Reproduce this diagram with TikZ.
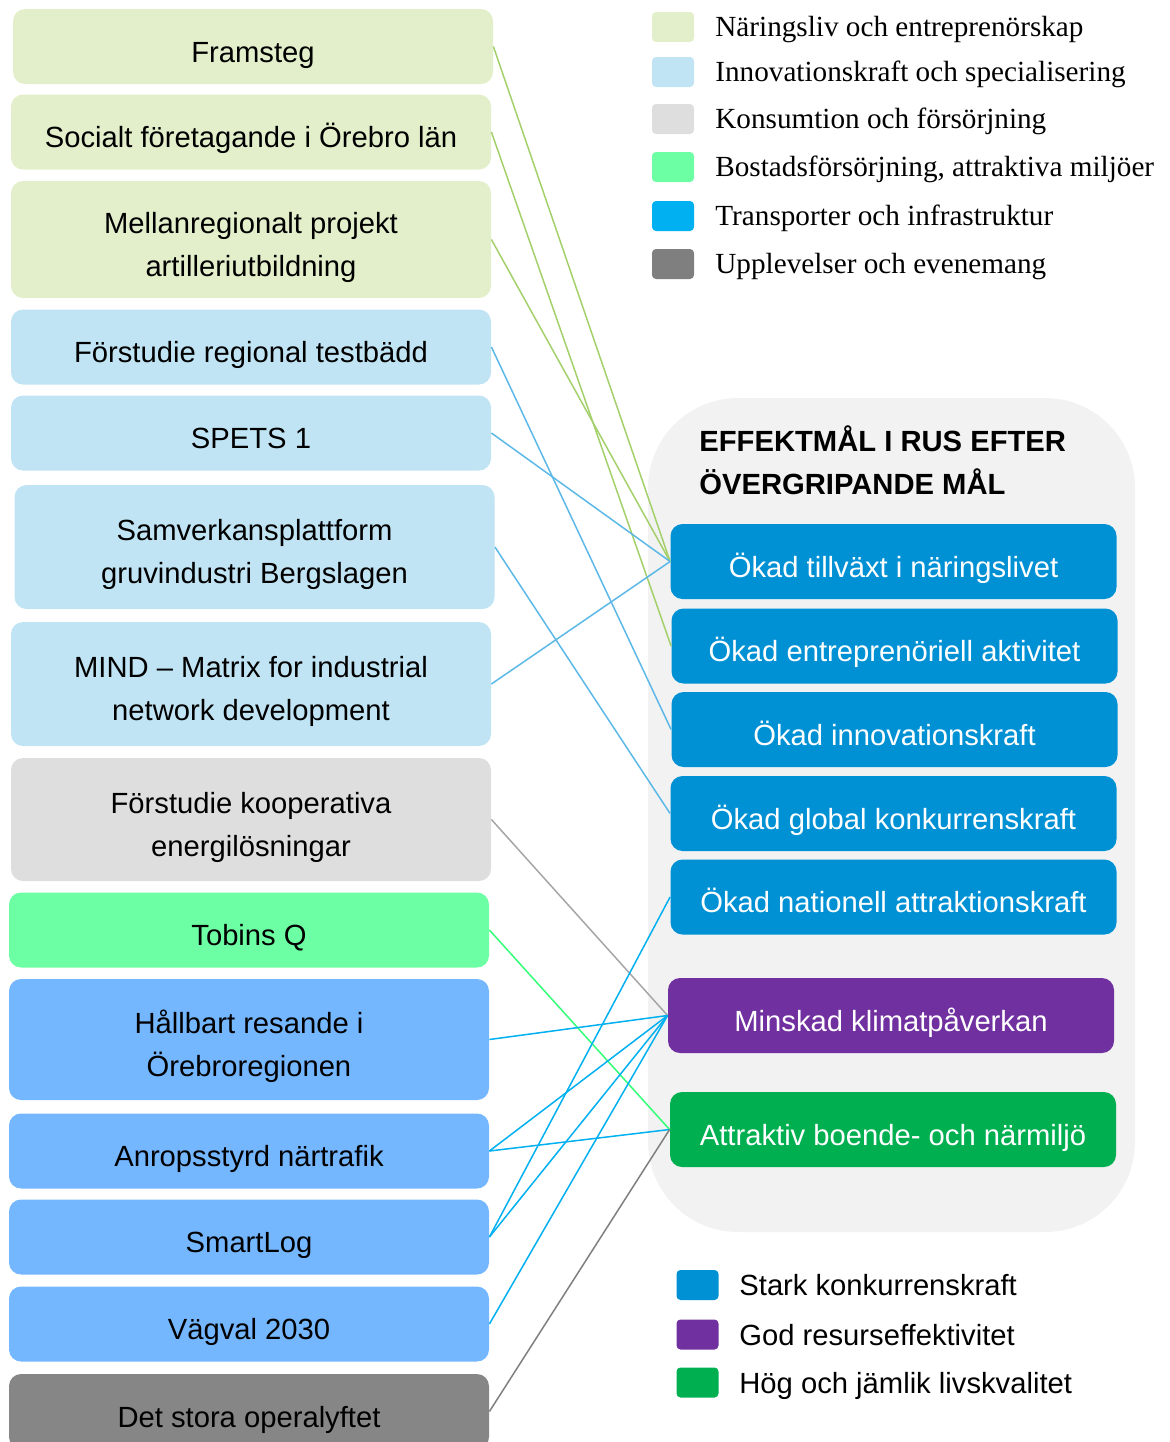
\documentclass[tikz,border=0pt]{standalone}
\usepackage{fontspec}
\setmainfont{Liberation Sans}
\newfontfamily\legendserif{Liberation Serif}
\usetikzlibrary{positioning}

\definecolor{naering}{HTML}{E2EFCA}
\definecolor{innovation}{HTML}{C0E4F4}
\definecolor{konsumtion}{HTML}{DEDEDE}
\definecolor{bostad}{HTML}{6DFFA3}
\definecolor{transport}{HTML}{74B7FF}
\definecolor{transportkey}{HTML}{00B0F0}
\definecolor{upplevelse}{HTML}{868686}
\definecolor{upplevelsekey}{HTML}{7F7F7F}
\definecolor{konkurrens}{HTML}{0091D5}
\definecolor{resurs}{HTML}{7030A0}
\definecolor{livskvalitet}{HTML}{00B050}
\definecolor{panelgray}{HTML}{F2F2F2}
\definecolor{linklime}{HTML}{A3D06A}
\definecolor{linkblue}{HTML}{5CB8E6}
\definecolor{linkgray}{HTML}{A6A6A6}
\definecolor{linkgreen}{HTML}{33FF77}
\definecolor{linkcyan}{HTML}{00B0F0}
\definecolor{linkdark}{HTML}{7F7F7F}

\newcommand{\boxfont}{\fontsize{14.6}{21.5}\selectfont}

\begin{document}
\begin{tikzpicture}[x=0.5pt, y=-0.5pt]

%====Stili================================================

	\tikzstyle{project}=[rectangle, rounded corners=6pt, minimum width=240pt, minimum height=37.5pt, inner sep=0pt, align=center, font=\boxfont, text height=17.8pt, text depth=2pt]
	\tikzstyle{twoline}=[text height=38.5pt, text depth=2pt]
	\tikzstyle{goal}=[rectangle, rounded corners=6pt, minimum width=223pt, minimum height=37.5pt, inner sep=0pt, text=white, font=\boxfont, text height=17.6pt, text depth=2pt]
	\tikzstyle{swatch}=[rectangle, rounded corners=2pt, minimum width=21pt, minimum height=15pt, inner sep=0pt]
	\tikzstyle{keytext}=[anchor=base west, inner sep=0pt, font=\boxfont]
	\tikzstyle{link}=[line width=0.75pt]

	\useasboundingbox (0,0) rectangle (1170,1442);

%====Pannello effektmål===========================================

	\fill[panelgray, rounded corners=45pt] (648,398) rectangle (1135,1232);
	\node[anchor=west, inner sep=0pt, align=left, font=\boxfont\bfseries] (title) at (699,460.5) {EFFEKTMÅL I RUS EFTER\\ÖVERGRIPANDE MÅL};

%====Projekt===========================================

	\node[project, fill=naering]					(framsteg)   at (253,46.5)   {Framsteg};
	\node[project, fill=naering]					(socialt)    at (251,132)    {Socialt företagande i Örebro län};
	\node[project, twoline, fill=naering, minimum height=58.5pt]	(mellan)     at (251,239.5)  {Mellanregionalt projekt\\artilleriutbildning};
	\node[project, fill=innovation]					(testbadd)   at (251,347)    {Förstudie regional testbädd};
	\node[project, fill=innovation]					(spets)      at (251,433)    {SPETS 1};
	\node[project, twoline, fill=innovation, minimum height=62pt]	(samverkan)  at (254.5,547)  {Samverkansplattform\\gruvindustri Bergslagen};
	\node[project, twoline, fill=innovation, minimum height=62pt]	(mind)       at (251,684)    {MIND -- Matrix for industrial\\network development};
	\node[project, twoline, fill=konsumtion, minimum height=61.5pt]	(kooperativ) at (251,819.5)  {Förstudie kooperativa\\energilösningar};
	\node[project, fill=bostad]					(tobins)     at (249,930)    {Tobins Q};
	\node[project, twoline, fill=transport, minimum height=60.5pt]	(hallbart)   at (249,1039.5) {Hållbart resande i\\Örebroregionen};
	\node[project, fill=transport]					(anrop)      at (249,1151)   {Anropsstyrd närtrafik};
	\node[project, fill=transport]					(smartlog)   at (249,1237)   {SmartLog};
	\node[project, fill=transport]					(vagval)     at (249,1324)   {Vägval 2030};
	\node[project, fill=upplevelse]					(opera)      at (249,1411.5) {Det stora operalyftet};

%====Effektmål===========================================

	\node[goal, fill=konkurrens]	(tillvaxt)     at (893.5,561.5) {Ökad tillväxt i näringslivet};
	\node[goal, fill=konkurrens]	(entreprenor)  at (894.5,646)   {Ökad entreprenöriell aktivitet};
	\node[goal, fill=konkurrens]	(innovkraft)   at (894.5,729.5) {Ökad innovationskraft};
	\node[goal, fill=konkurrens]	(global)       at (893.5,813.5) {Ökad global konkurrenskraft};
	\node[goal, fill=konkurrens]	(nationell)    at (893.5,897)   {Ökad nationell attraktionskraft};
	\node[goal, fill=resurs]	(klimat)       at (891,1015.5)  {Minskad klimatpåverkan};
	\node[goal, fill=livskvalitet]	(boende)       at (893,1129.5)  {Attraktiv boende- och närmiljö};

%====Collegamenti================================================================

	\draw[link, linklime]  (framsteg.east)   -- (tillvaxt.west);
	\draw[link, linklime]  (socialt.east)    -- (entreprenor.west);
	\draw[link, linklime]  (mellan.east)     -- (tillvaxt.west);
	\draw[link, linkblue]  (testbadd.east)   -- (innovkraft.west);
	\draw[link, linkblue]  (spets.east)      -- (tillvaxt.west);
	\draw[link, linkblue]  (samverkan.east)  -- (global.west);
	\draw[link, linkblue]  (mind.east)       -- (tillvaxt.west);
	\draw[link, linkgray]  (kooperativ.east) -- (klimat.west);
	\draw[link, linkgreen] (tobins.east)     -- (boende.west);
	\draw[link, linkcyan]  (hallbart.east)   -- (klimat.west);
	\draw[link, linkcyan]  (anrop.east)      -- (klimat.west);
	\draw[link, linkcyan]  (anrop.east)      -- (boende.west);
	\draw[link, linkcyan]  (smartlog.east)   -- (klimat.west);
	\draw[link, linkcyan]  (smartlog.east)   -- (nationell.west);
	\draw[link, linkcyan]  (vagval.east)     -- (klimat.west);
	\draw[link, linkdark]  (opera.east)      -- (boende.west);

%====Legenda områden================================================

	\node[swatch, fill=naering]       (k1) at (673,27)  {};
	\node[swatch, fill=innovation]    (k2) at (673,72)  {};
	\node[swatch, fill=konsumtion]    (k3) at (673,119) {};
	\node[swatch, fill=bostad]        (k4) at (673,167) {};
	\node[swatch, fill=transportkey]  (k5) at (673,216) {};
	\node[swatch, fill=upplevelsekey] (k6) at (673,264) {};
	\node[keytext, font=\legendserif\boxfont] (t1) at (715,36)  {Näringsliv och entreprenörskap};
	\node[keytext, font=\legendserif\boxfont] (t2) at (715,81)  {Innovationskraft och specialisering};
	\node[keytext, font=\legendserif\boxfont] (t3) at (715,128) {Konsumtion och försörjning};
	\node[keytext, font=\legendserif\boxfont] (t4) at (715,176) {Bostadsförsörjning, attraktiva miljöer};
	\node[keytext, font=\legendserif\boxfont] (t5) at (715,225) {Transporter och infrastruktur};
	\node[keytext, font=\legendserif\boxfont] (t6) at (715,273) {Upplevelser och evenemang};

%====Legenda mål================================================

	\node[swatch, fill=konkurrens]   (m1) at (697.5,1285)   {};
	\node[swatch, fill=resurs]       (m2) at (697.5,1334.5) {};
	\node[swatch, fill=livskvalitet] (m3) at (697.5,1382.5) {};
	\node[keytext] (s1) at (739,1295) {Stark konkurrenskraft};
	\node[keytext] (s2) at (739,1345) {God resurseffektivitet};
	\node[keytext] (s3) at (739,1393) {Hög och jämlik livskvalitet};

\end{tikzpicture}
\end{document}
